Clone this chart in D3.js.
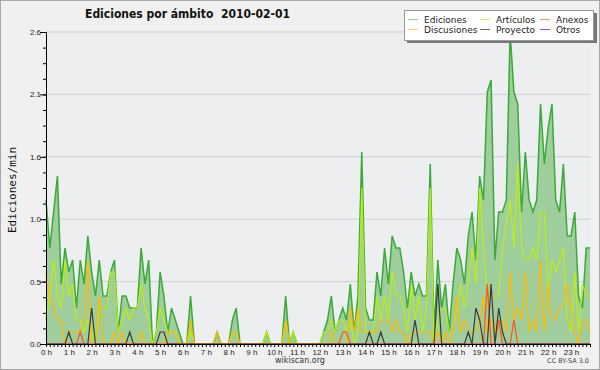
<!DOCTYPE html>
<html>
<head>
<meta charset="utf-8">
<script src="https://cdn.jsdelivr.net/npm/d3@7"></script>
<style>
  body { margin: 0; background: #f0f0f0; }
  svg { display: block; font-family: "DejaVu Sans", sans-serif; }
</style>
</head>
<body>
<div id="chart"></div>
<script>
// edits per minute, one value every 10 minutes (144 per day)
const ediciones = [
  1.2, 0.8, 1.1, 1.4, 0.5, 0.8, 0.6, 0.7, 0.3, 0.7,
  0.5, 0.9, 0.6, 0.4, 0.7, 0.4, 0.4, 0.6, 0.7, 0.1,
  0.4, 0.4, 0.3, 0.3, 0.3, 0.8, 0.5, 0.7, 0.0, 0.1,
  0.6, 0.4, 0.1, 0.3, 0.2, 0.1, 0.0, 0.0, 0.4, 0.0,
  0.0, 0.0, 0.0, 0.0, 0.0, 0.1, 0.0, 0.0, 0.0, 0.2,
  0.3, 0.0, 0.0, 0.0, 0.0, 0.0, 0.0, 0.0, 0.1, 0.0,
  0.0, 0.0, 0.0, 0.4, 0.0, 0.1, 0.0, 0.0, 0.0, 0.0,
  0.0, 0.0, 0.0, 0.1, 0.2, 0.4, 0.1, 0.2, 0.3, 0.2,
  0.5, 0.1, 0.4, 1.6, 0.3, 0.2, 0.2, 0.6, 0.4, 0.8,
  0.5, 0.9, 0.8, 0.8, 0.6, 0.3, 0.6, 0.4, 0.5, 0.4,
  0.4, 1.5, 0.1, 0.7, 0.3, 0.5, 0.1, 0.5, 0.8, 0.7,
  0.5, 0.9, 1.1, 0.7, 1.4, 1.2, 2.1, 2.2, 0.7, 1.1,
  1.1, 1.2, 2.6, 2.1, 2.0, 1.1, 1.6, 1.2, 1.1, 1.2,
  2.0, 1.5, 1.8, 2.0, 1.2, 1.1, 1.5, 0.9, 0.9, 1.1,
  0.4, 0.3, 0.8, 0.8
];
const articulos = [
  0.2, 0.4, 0.7, 0.4, 0.3, 0.7, 0.4, 0.5, 0.2, 0.2,
  0.1, 0.2, 0.1, 0.0, 0.3, 0.3, 0.3, 0.6, 0.6, 0.1,
  0.2, 0.3, 0.2, 0.3, 0.3, 0.5, 0.3, 0.2, 0.0, 0.1,
  0.3, 0.2, 0.1, 0.1, 0.1, 0.0, 0.0, 0.0, 0.1, 0.0,
  0.0, 0.0, 0.0, 0.0, 0.0, 0.0, 0.0, 0.0, 0.0, 0.1,
  0.1, 0.0, 0.0, 0.0, 0.0, 0.0, 0.0, 0.0, 0.1, 0.0,
  0.0, 0.0, 0.0, 0.2, 0.0, 0.1, 0.0, 0.0, 0.0, 0.0,
  0.0, 0.0, 0.0, 0.1, 0.1, 0.2, 0.1, 0.2, 0.2, 0.1,
  0.2, 0.0, 0.1, 1.3, 0.1, 0.1, 0.1, 0.4, 0.2, 0.4,
  0.2, 0.6, 0.4, 0.4, 0.3, 0.1, 0.5, 0.2, 0.4, 0.1,
  0.3, 1.3, 0.0, 0.2, 0.3, 0.3, 0.1, 0.1, 0.3, 0.5,
  0.3, 0.5, 0.8, 0.5, 1.3, 0.8, 0.4, 0.4, 0.4, 0.4,
  0.8, 1.0, 1.2, 0.8, 1.5, 0.8, 0.7, 0.7, 0.8, 0.7,
  1.1, 1.1, 0.4, 0.7, 0.6, 0.7, 0.8, 0.2, 0.1, 0.6,
  0.1, 0.5, 0.4, 0.4
];
const discusiones = [
  0.6, 0.4, 0.3, 0.2, 0.2, 0.0, 0.1, 0.1, 0.1, 0.1,
  0.2, 0.7, 0.0, 0.0, 0.4, 0.0, 0.0, 0.0, 0.1, 0.0,
  0.1, 0.0, 0.0, 0.0, 0.0, 0.1, 0.0, 0.0, 0.0, 0.0,
  0.0, 0.0, 0.1, 0.1, 0.1, 0.0, 0.0, 0.0, 0.2, 0.0,
  0.0, 0.0, 0.0, 0.0, 0.0, 0.1, 0.0, 0.0, 0.0, 0.1,
  0.1, 0.0, 0.0, 0.0, 0.0, 0.0, 0.0, 0.0, 0.0, 0.0,
  0.0, 0.0, 0.0, 0.2, 0.0, 0.0, 0.0, 0.0, 0.0, 0.0,
  0.0, 0.0, 0.0, 0.0, 0.0, 0.1, 0.0, 0.0, 0.0, 0.0,
  0.3, 0.1, 0.3, 0.1, 0.1, 0.1, 0.1, 0.1, 0.2, 0.2,
  0.2, 0.1, 0.2, 0.1, 0.1, 0.0, 0.1, 0.1, 0.1, 0.1,
  0.1, 0.1, 0.0, 0.1, 0.0, 0.1, 0.0, 0.1, 0.4, 0.1,
  0.2, 0.1, 0.1, 0.1, 0.2, 0.4, 0.1, 0.2, 0.1, 0.2,
  0.2, 0.1, 0.6, 0.2, 0.3, 0.2, 0.6, 0.1, 0.2, 0.1,
  0.7, 0.1, 0.5, 0.2, 0.2, 0.3, 0.3, 0.5, 0.3, 0.1,
  0.0, 0.2, 0.2, 0.1
];
// sparse series: [slot index, value]
const anexos = [[9, 0.1], [78, 0.1], [79, 0.1], [116, 0.5], [119, 0.2], [123, 0.2]];
const proyecto = [[6, 0.1], [12, 0.3], [22, 0.1], [30, 0.1], [31, 0.1], [85, 0.1], [88, 0.1],
  [97, 0.2], [103, 0.5], [111, 0.1], [113, 0.3], [114, 0.2], [117, 0.5], [119, 0.3], [120, 0.1]];
const otros = [];

const yTicks = [0, 0.52, 1.04, 1.56, 2.08, 2.6];
const hours = d3.range(24).map(h => h + " h");
const legendItems = [
  ["Ediciones", "#8fd08f"], ["Artículos", "#d4f06a"], ["Anexos", "#f09a6a"],
  ["Discusiones", "#ffd35a"], ["Proyecto", "#666666"], ["Otros", "#9a50f0"]
];

function expand(sparse) {
  let arr = new Array(144).fill(0);
  sparse.forEach(d => arr[d[0]] = d[1]);
  return arr;
}

const W = 600, H = 370;
const margin = {top: 32, right: 10, bottom: 26, left: 46};

const svg = d3.select("#chart").append("svg")
  .attr("width", W).attr("height", H);

svg.append("rect")
  .attr("x", 0.5).attr("y", 0.5)
  .attr("width", W - 1).attr("height", H - 1)
  .attr("fill", "#f0f0f0").attr("stroke", "#a8a8a8");

let x = d3.scaleLinear().domain([0, 143]).range([margin.left, W - margin.right]);
let y = d3.scaleLinear().domain([0, 2.6]).range([H - margin.bottom, margin.top]);

// plot background
svg.append("rect")
  .attr("x", x(0)).attr("y", y(2.6))
  .attr("width", x(143) - x(0)).attr("height", y(0) - y(2.6))
  .attr("fill", "#eceef0");

// grid
svg.selectAll(".grid")
  .data(yTicks.slice(1))
  .enter().append("line")
  .attr("x1", x(0)).attr("x2", x(143))
  .attr("y1", d => y(d)).attr("y2", d => y(d))
  .attr("stroke", "#cfcfcf").attr("stroke-width", 1);

let area = d3.area()
  .x((d, i) => x(i))
  .y0(y(0))
  .y1(d => y(d));

let line = d3.line()
  .x((d, i) => x(i))
  .y(d => y(d));

svg.append("path")
  .datum(ediciones)
  .attr("d", area)
  .attr("fill", "#9fcd9c");

let series = [
  [expand(otros), "#9933ff"],
  [articulos, "#bbee11"],
  [discusiones, "#ffbb00"],
  [expand(anexos), "#ff5511"],
  [expand(proyecto), "#3a3a3a"]
];

svg.append("path")
  .datum(ediciones)
  .attr("d", line)
  .attr("fill", "none")
  .attr("stroke", "#3aaa3a")
  .attr("stroke-width", 1.5);

series.forEach(s => {
  svg.append("path")
    .datum(s[0])
    .attr("d", line)
    .attr("fill", "none")
    .attr("stroke", s[1])
    .attr("stroke-width", 1.2);
});

// y axis
let yAxis = svg.append("g")
  .attr("transform", "translate(" + x(0) + ",0)")
  .call(d3.axisLeft(y).tickValues(yTicks).tickSize(6).tickSizeOuter(0)
    .tickFormat(d3.format(".1f")));
svg.append("g")
  .attr("transform", "translate(" + x(0) + ",0)")
  .call(d3.axisLeft(y).tickValues(d3.range(21).map(k => k * 0.13)).tickSize(3)
    .tickSizeOuter(0).tickFormat(""));
yAxis.selectAll("text").attr("font-size", 8).attr("fill", "#222").attr("x", -5);

// x axis
let xAxis = svg.append("g")
  .attr("transform", "translate(0," + y(0) + ")")
  .call(d3.axisBottom(x).tickValues(d3.range(144)).tickSize(3).tickSizeOuter(0)
    .tickFormat(d => d % 6 === 0 ? hours[d / 6] : ""));
xAxis.selectAll("text").attr("font-size", 8).attr("fill", "#222").attr("y", 5);

svg.selectAll(".domain").attr("stroke", "#000");
svg.selectAll(".tick line").attr("stroke", "#000");

// labels
svg.append("text")
  .attr("transform", "translate(16," + (y(1.3) + 2) + ") rotate(-90)")
  .attr("text-anchor", "middle")
  .attr("font-family", "DejaVu Sans Mono")
  .attr("font-size", 11)
  .attr("fill", "#111")
  .text("Ediciones/min");

svg.append("text")
  .attr("x", 85).attr("y", 18)
  .attr("font-weight", "bold")
  .attr("font-size", 13)
  .attr("textLength", 205)
  .attr("lengthAdjust", "spacingAndGlyphs")
  .attr("fill", "#111")
  .text("Ediciones por ámbito\u00a0\u00a02010-02-01");

svg.append("text")
  .attr("x", 300).attr("y", 363)
  .attr("text-anchor", "middle")
  .attr("font-size", 8)
  .attr("fill", "#333")
  .text("wikiscan.org");

svg.append("text")
  .attr("x", 589).attr("y", 363)
  .attr("text-anchor", "end")
  .attr("font-size", 6.5)
  .attr("fill", "#444")
  .text("CC BY-SA 3.0");

// legend
let lg = svg.append("g").attr("transform", "translate(404,10)");
lg.append("rect").attr("x", 3).attr("y", 3).attr("width", 190).attr("height", 30).attr("fill", "#777");
lg.append("rect").attr("x", 0.5).attr("y", 0.5).attr("width", 189).attr("height", 30)
  .attr("fill", "#fff").attr("stroke", "#999");
let colX = [4, 76, 136];
legendItems.forEach((d, i) => {
  let cx = colX[i % 3], cy = i < 3 ? 9.5 : 19.5;
  lg.append("line").attr("x1", cx).attr("x2", cx + 10)
    .attr("y1", cy).attr("y2", cy)
    .attr("stroke", d[1]).attr("stroke-width", 1);
  lg.append("text").attr("x", cx + 16).attr("y", cy + 3.5)
    .attr("font-size", 9).attr("fill", "#222").text(d[0]);
});
</script>
</body>
</html>
